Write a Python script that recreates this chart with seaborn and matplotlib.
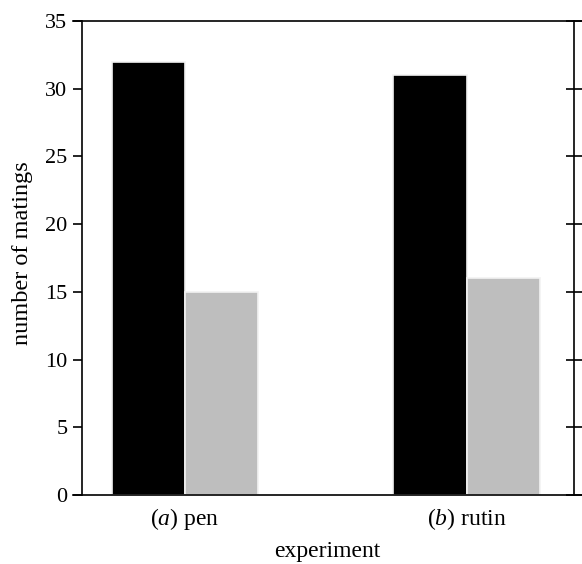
import matplotlib
matplotlib.use('Agg')
import matplotlib.pyplot as plt
import pandas as pd
import seaborn as sns

# data
experiments = ['($\\mathit{a}$) pen', '($\\mathit{b}$) rutin']
groups = ['first', 'second']
first_counts = [32, 31]
second_counts = [15, 16]
y_ticks = [0, 5, 10, 15, 20, 25, 30, 35]

df = pd.DataFrame({
    'experiment': experiments * 2,
    'group': [groups[0]] * 2 + [groups[1]] * 2,
    'count': first_counts + second_counts,
})

sns.set_theme(style='white')
plt.rcParams['font.family'] = ['Liberation Serif', 'DejaVu Serif']
plt.rcParams['mathtext.fontset'] = 'custom'
plt.rcParams['mathtext.rm'] = 'Liberation Serif'
plt.rcParams['mathtext.it'] = 'Liberation Serif:italic'

fig = plt.figure(figsize=(5.82, 5.64), dpi=100)
ax = fig.add_axes([73 / 582, 1 - 495 / 564, 509 / 582, 474 / 564])

sns.barplot(data=df, x='experiment', y='count', hue='group',
            palette=['#000000', '#bebebe'], saturation=1, width=0.52,
            edgecolor='#f2f2f2', linewidth=1.2, legend=False, ax=ax)

ax.set_xlim(-0.398, 1.41)
ax.set_ylim(0, 35)
ax.set_yticks(y_ticks)

for side in ['top', 'bottom', 'left', 'right']:
    ax.spines[side].set_color('black')
    ax.spines[side].set_linewidth(1.2)
ax.spines['left'].set_position(('axes', 9 / 509))
ax.spines['right'].set_visible(False)

ax.tick_params(axis='y', left=True, right=False, direction='out', length=6.5,
               width=1.2, color='black', labelsize=16, pad=4)
ax.tick_params(axis='x', bottom=False, labelsize=17, pad=2, colors='black')
ax.tick_params(axis='y', colors='black')

# right-hand axis with ticks crossing the spine
ax2 = ax.twinx()
ax2.set_ylim(0, 35)
ax2.set_yticks(y_ticks)
ax2.set_yticklabels([])
for side in ['top', 'bottom', 'left']:
    ax2.spines[side].set_visible(False)
ax2.spines['right'].set_position(('axes', 501 / 509))
ax2.spines['right'].set_color('black')
ax2.spines['right'].set_linewidth(1.2)
ax2.tick_params(axis='y', right=True, direction='inout', length=12, width=1.2,
                color='black')

ax.set_xlabel('experiment', fontsize=17, color='black')
ax.xaxis.set_label_coords(0.5, -0.097)
ax.set_ylabel('number of matings', fontsize=17.5, color='black')
ax.yaxis.set_label_coords(-0.079, 0.51)

fig.savefig('out.png', dpi=100)
